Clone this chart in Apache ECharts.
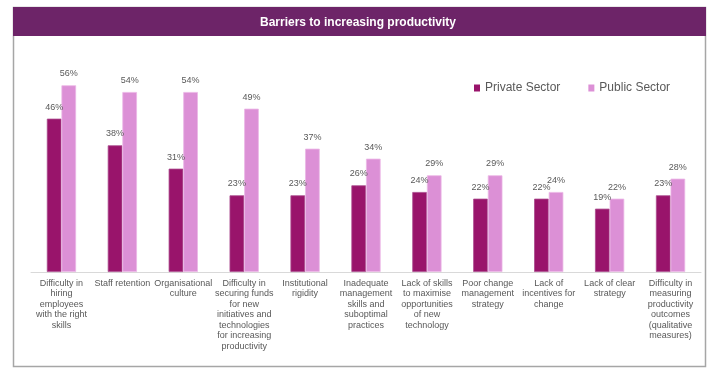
<!DOCTYPE html>
<html>
<head>
<meta charset="utf-8">
<script src="https://cdn.jsdelivr.net/npm/echarts@6/dist/echarts.min.js"></script>
<style>
html,body{margin:0;padding:0;background:#fff;}
#c{width:716px;height:372px;}
</style>
</head>
<body>
<div id="c"></div>
<script>
const chartTitle = "Barriers to increasing productivity";
const categories = [
  "Difficulty in\nhiring\nemployees\nwith the right\nskills",
  "Staff retention",
  "Organisational\nculture",
  "Difficulty in\nsecuring funds\nfor new\ninitiatives and\ntechnologies\nfor increasing\nproductivity",
  "Institutional\nrigidity",
  "Inadequate\nmanagement\nskills and\nsuboptimal\npractices",
  "Lack of skills\nto maximise\nopportunities\nof new\ntechnology",
  "Poor change\nmanagement\nstrategy",
  "Lack of\nincentives for\nchange",
  "Lack of clear\nstrategy",
  "Difficulty in\nmeasuring\nproductivity\noutcomes\n(qualitative\nmeasures)"
];
const privateSector = [46, 38, 31, 23, 23, 26, 24, 22, 22, 19, 23];
const publicSector  = [56, 54, 54, 49, 37, 34, 29, 29, 24, 22, 28];
const seriesNames = ["Private Sector", "Public Sector"];

const chart = echarts.init(document.getElementById('c'), null, {renderer: 'canvas'});
const font = '"Liberation Sans", Arial, sans-serif';
const labelStyle = {
  show: true, position: 'top', distance: 7,
  formatter: p => p.value + '%',
  color: '#595959', fontSize: 9, fontFamily: font
};
chart.setOption({
  animation: false,
  backgroundColor: '#ffffff',
  graphic: [
    {type: 'rect', z: -1, shape: {x: 13.5, y: 7.5, width: 692, height: 359},
     style: {fill: '#ffffff', stroke: '#a6a6a6', lineWidth: 1.5}},
    {type: 'rect', z: 0, shape: {x: 13, y: 7, width: 693, height: 29},
     style: {fill: '#6d2468'}}
  ],
  title: {
    text: chartTitle, left: 'center', top: 12,
    textStyle: {color: '#ffffff', fontSize: 12, fontWeight: 'bold', fontFamily: font}
  },
  legend: {
    left: 474, top: 82, padding: 0, itemWidth: 6, itemHeight: 7, itemGap: 28,
    icon: 'rect',
    itemStyle: {borderWidth: 0},
    textStyle: {color: '#595959', fontSize: 12, fontFamily: font},
    data: seriesNames
  },
  grid: {left: 31, right: 15, top: 72, bottom: 100, containLabel: false},
  xAxis: {
    type: 'category', data: categories,
    axisLine: {lineStyle: {color: '#d9d9d9', width: 1}},
    axisTick: {show: false},
    axisLabel: {interval: 0, color: '#595959', fontSize: 9, fontFamily: font, lineHeight: 10.5, margin: 6}
  },
  yAxis: {type: 'value', min: 0, max: 60, show: false, splitLine: {show: false}},
  series: [
    {name: seriesNames[0], type: 'bar', data: privateSector, barWidth: '24%', barGap: '0%',
     itemStyle: {color: '#99146b', borderColor: '#a94a8d', borderWidth: 0.8},
     label: labelStyle},
    {name: seriesNames[1], type: 'bar', data: publicSector, barWidth: '24%', barGap: '0%',
     itemStyle: {color: '#dc90d6', borderColor: '#ebb6e6', borderWidth: 0.8},
     label: labelStyle}
  ]
});
</script>
</body>
</html>
